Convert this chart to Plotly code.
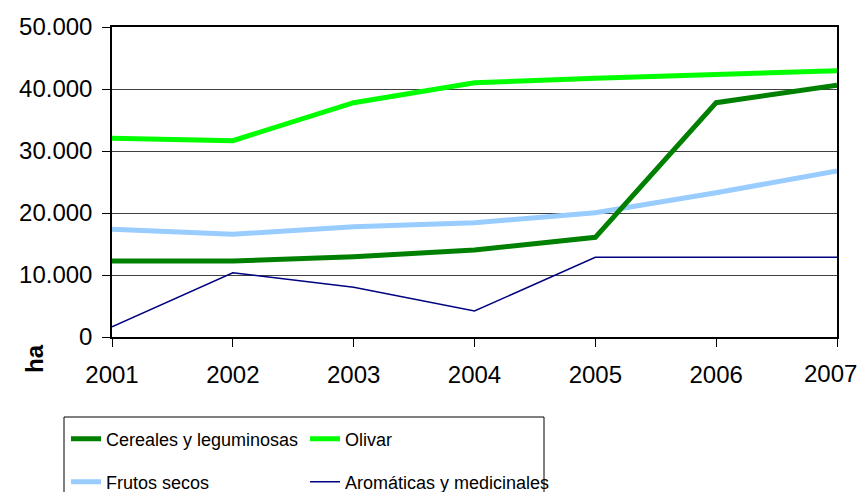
import plotly.graph_objects as go

years = [2001, 2002, 2003, 2004, 2005, 2006, 2007]
cereales = [12260, 12260, 12950, 14030, 16080, 37790, 40600]
olivar = [32050, 31670, 37790, 41020, 41720, 42260, 42950]
frutos = [17370, 16560, 17790, 18440, 20050, 23270, 26770]
aromaticas = [1660, 10370, 8010, 4190, 12850, 12850, 12850]

names = ["Cereales y leguminosas", "Olivar", "Frutos secos", "Aromáticas y medicinales"]
x_tick_labels = ["2001", "2002", "2003", "2004", "2005", "2006", "2007"]
y_ticks = [0, 10000, 20000, 30000, 40000, 50000]

FONT = "Arial, Liberation Sans, sans-serif"

# page body has an 8px margin; lay out in screen pixels and compensate
OFF = 8
W, H = 867 - OFF, 500 - 2 * OFF
plot_left, plot_right, plot_top, plot_bottom = 112, 837, 27, 337  # screen px
L, T = plot_left - OFF, plot_top - OFF
R, B = W - (plot_right - OFF), H - (plot_bottom - OFF)
pw, ph = plot_right - plot_left, plot_bottom - plot_top

def px_x(px):
    return (px - plot_left) / pw

def px_y(py):
    return (plot_bottom - py) / ph

fig = go.Figure()
fig.add_trace(go.Scatter(x=years, y=frutos, name=names[2], mode="lines",
                         line=dict(color="#99CCFF", width=5), legend="legend3"))
fig.add_trace(go.Scatter(x=years, y=cereales, name=names[0], mode="lines",
                         line=dict(color="#008000", width=5), legend="legend"))
fig.add_trace(go.Scatter(x=years, y=olivar, name=names[1], mode="lines",
                         line=dict(color="#00FF00", width=5), legend="legend2"))
fig.add_trace(go.Scatter(x=years, y=aromaticas, name=names[3], mode="lines",
                         line=dict(color="#000080", width=1.5), legend="legend4"))

def leg(xs, ys):
    return dict(x=px_x(xs), y=px_y(ys), orientation="h", xanchor="left", yanchor="middle",
                font=dict(family=FONT, size=18, color="black"),
                bgcolor="rgba(0,0,0,0)")

# last x label drawn as annotation so it stays inside the visible page
ticktext = x_tick_labels[:-1] + [""]

fig.update_layout(
    width=W, height=H,
    margin=dict(l=L, r=R, t=T, b=B, autoexpand=False),
    paper_bgcolor="white", plot_bgcolor="white",
    separators=",.",
    font=dict(family=FONT, size=24, color="black"),
    showlegend=True,
    legend=leg(66, 439),
    legend2=leg(305, 439),
    legend3=leg(66, 482),
    legend4=leg(305, 482),
    xaxis=dict(range=[2001, 2007], tickvals=years, ticktext=ticktext, ticks="outside", ticklen=8,
               tickcolor="black", showgrid=False, showline=True, linecolor="black",
               linewidth=1.5, mirror=True, zeroline=False, ticklabelstandoff=7,
               tickfont=dict(family=FONT, size=24, color="black")),
    yaxis=dict(range=[0, 50000], tickvals=y_ticks, tickformat=",d", ticks="outside",
               ticklen=8, tickcolor="black", showgrid=True, gridcolor="#404040", gridwidth=1,
               showline=True, linecolor="black", linewidth=1.5, mirror=True, zeroline=False,
               ticklabelstandoff=5,
               tickfont=dict(family=FONT, size=24, color="black")),
    shapes=[dict(type="rect", xref="paper", yref="paper",
                 x0=px_x(64), x1=px_x(544), y0=px_y(417), y1=px_y(520),
                 line=dict(color="black", width=1), fillcolor="rgba(0,0,0,0)")],
    annotations=[
        dict(text="<b>ha</b>", xref="paper", yref="paper",
             x=px_x(34), y=px_y(359), textangle=-90, showarrow=False,
             xanchor="center", yanchor="middle",
             font=dict(family=FONT, size=24, color="black")),
        dict(text=x_tick_labels[-1], xref="x", yref="paper",
             x=years[-1], y=px_y(373), xanchor="right", yanchor="middle",
             xshift=22, showarrow=False,
             font=dict(family=FONT, size=24, color="black")),
    ],
)

fig.write_html("out.html")
